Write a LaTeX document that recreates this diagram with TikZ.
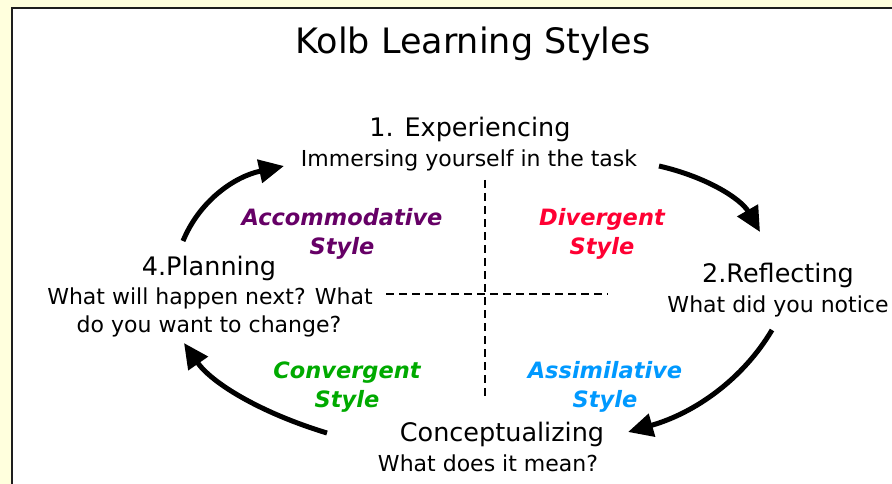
\documentclass[tikz,border=0pt]{standalone}
\usepackage{fontspec}
\setmainfont{DejaVu Sans}
\newfontfamily\stylefont{DejaVu Sans Bold Oblique}
\usetikzlibrary{arrows.meta}
\definecolor{cream}{HTML}{FFFFDD}
\definecolor{framec}{HTML}{1E1E1E}
\definecolor{accpurple}{HTML}{660066}
\definecolor{divred}{HTML}{FF0033}
\definecolor{convgreen}{HTML}{00AA00}
\definecolor{assblue}{HTML}{0099FF}
\tikzset{
  txt/.style={anchor=base, inner sep=0pt, text=black},
  titletxt/.style={txt, font=\fontsize{35}{40}\selectfont},
  headtxt/.style={txt, font=\fontsize{25.5}{30}\selectfont},
  subtxt/.style={txt, font=\fontsize{22}{28}\selectfont},
  styletxt/.style={txt, align=center, font=\stylefont\fontsize{22.5}{28.5}\selectfont},
  cyclearrow/.style={line width=5pt, -{Triangle[length=25pt,width=23pt]}},
  quadrant/.style={line width=1.6pt, dash pattern=on 8pt off 5pt}
}
\begin{document}
\begin{tikzpicture}[x=1pt,y=-1pt]
\useasboundingbox (0,0) rectangle (892,484);
% page background and white panel with its frame
\fill[cream] (0,0) rectangle (892,484);
\fill[white] (12,8) rectangle (892,484);
\draw[framec, line width=2pt] (12,484) -- (12,8) -- (892,8);

% title
\node[titletxt] (title) at (473,54) {Kolb Learning Styles};

% the four stages
\node[headtxt] (exp) at (470,137) {1. Experiencing};
\node[subtxt] (expsub) at (469,167) {Immersing yourself in the task};

\node[headtxt] (refl) at (778,282) {2.Reflecting};
\node[subtxt] (reflsub) at (778,312) {What did you notice};

\node[headtxt] (conc) at (502,441) {Conceptualizing};
\node[subtxt] (concsub) at (488,471) {What does it mean?};

\node[headtxt] (plan) at (209,275) {4.Planning};
\node[subtxt] (plansub1) at (210,304) {What will happen next? What};
\node[subtxt] (plansub2) at (209,332) {do you want to change?};

% quadrant lines
\coordinate (vtop) at (485,180);
\coordinate (vbot) at (485,399);
\coordinate (hleft) at (386,294);
\coordinate (hright) at (608,294);
\draw[quadrant] (vtop) -- (vbot);
\draw[quadrant] (hleft) -- (hright);

% learning styles (anchored on the baseline of the second line)
\node[styletxt, text=accpurple] (acc) at (342,254) {Accommodative\\Style};
\node[styletxt, text=divred] (div) at (602,254) {Divergent\\Style};
\node[styletxt, text=convgreen] (conv) at (347,407) {Convergent\\Style};
\node[styletxt, text=assblue] (ass) at (605,407) {Assimilative\\Style};

% cycle arrows
\coordinate (a1s) at (659,166);
\coordinate (a1e) at (760,232);
\coordinate (a2s) at (772,330);
\coordinate (a2e) at (628,432);
\coordinate (a3s) at (327,433);
\coordinate (a3e) at (184,343);
\coordinate (a4s) at (183,241);
\coordinate (a4e) at (284,166);
\draw[cyclearrow] (a1s) .. controls (707,177) and (741,199) .. (a1e);
\draw[cyclearrow] (a2s) .. controls (743,379) and (695,413) .. (a2e);
\draw[cyclearrow] (a3s) .. controls (258,412) and (211,382) .. (a3e);
\draw[cyclearrow] (a4s) .. controls (199,202) and (233,177) .. (a4e);
\end{tikzpicture}
\end{document}
